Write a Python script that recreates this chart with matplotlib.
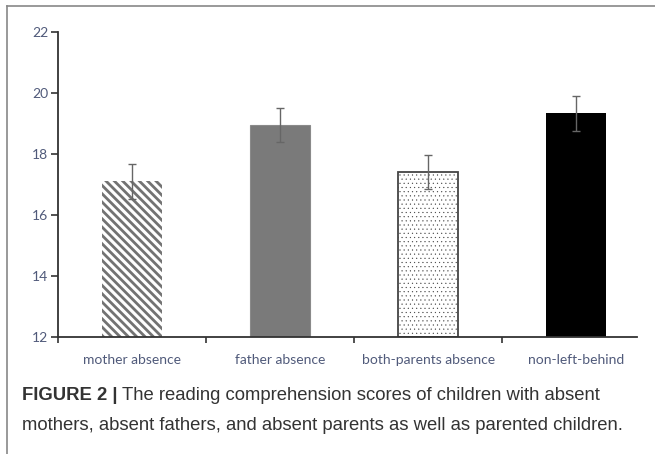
import numpy as np
import matplotlib.pyplot as plt
from matplotlib.lines import Line2D

# data
groups = ['mother absence', 'father absence', 'both-parents absence', 'non-left-behind']
scores = [17.1, 18.95, 17.42, 19.33]
errors = [0.57, 0.55, 0.56, 0.56]
yticks = [12, 14, 16, 18, 20, 22]

caption_bold = 'FIGURE 2 |'
caption_1 = 'The reading comprehension scores of children with absent'
caption_2 = 'mothers, absent fathers, and absent parents as well as parented children.'

fig = plt.figure(figsize=(6.55, 4.54), dpi=100)
ax = fig.add_axes([58/655, 1-337/454, (637-58)/655, (337-32)/454])

x = np.arange(len(groups))
w = 60/148
face = ['white', '#7a7a7a', 'white', 'black']
edge = ['#737373', '#8a8a8a', '#444444', 'black']
hatch = ['\\\\\\\\', None, '....', None]
lw = [0, 0.8, 1.3, 0]
hlw = [2.0, 1.0, 0.3, 1.0]
for i in range(len(groups)):
    plt.rcParams['hatch.linewidth'] = hlw[i]
    b = ax.bar(x[i], scores[i] - 12, bottom=12, width=w, color=face[i], edgecolor=edge[i],
               hatch=hatch[i], linewidth=lw[i], zorder=2)
    for p in b:
        if hasattr(p, 'set_hatch_linewidth'):
            p.set_hatch_linewidth(hlw[i])
ax.errorbar(x, scores, yerr=errors, fmt='none', ecolor='#666666', elinewidth=1,
            capsize=3, capthick=1, zorder=3)

ax.set_ylim(12, 22)
ax.set_xlim(-0.5, 3.41)
ax.set_yticks(yticks)
ax.set_xticks([-0.5, 0.5, 1.5, 2.5])
ax.set_xticklabels([])
ax.set_xticks(x, minor=True)
ax.set_xticklabels(groups, minor=True)

lab_col = '#505a7a'
ax.tick_params(axis='y', direction='out', length=5, width=1.2, color='#333333',
               labelsize=10, labelcolor=lab_col, pad=2)
ax.tick_params(axis='x', which='major', direction='out', length=4, width=1.2, color='#333333')
ax.tick_params(axis='x', which='minor', length=0, labelsize=10, labelcolor=lab_col, pad=12)
for t in ax.get_yticklabels() + ax.get_xticklabels(minor=True):
    t.set_family('Lato')

for s in ['top', 'right']:
    ax.spines[s].set_visible(False)
for s in ['left', 'bottom']:
    ax.spines[s].set_color('#333333')
    ax.spines[s].set_linewidth(1.3)

# frame of the figure panel (only top and left visible)
fig.add_artist(Line2D([7/655, 1], [1-6/454, 1-6/454], color='#888888', lw=1.2))
fig.add_artist(Line2D([7/655, 7/655], [0, 1-6/454], color='#888888', lw=1.2))

# caption
cap_col = '#333333'
tb = fig.text(22/655, 1-395/454, caption_bold, fontsize=13.3, fontweight='bold',
              family='Liberation Sans', va='center', color=cap_col)
fig.canvas.draw()
bb = tb.get_window_extent(fig.canvas.get_renderer())
fig.text(bb.x1/655 + 5/655, 1-395/454, caption_1, fontsize=13.3, family='Liberation Sans',
         va='center', color=cap_col)
fig.text(22/655, 1-426/454, caption_2, fontsize=13.3, family='Liberation Sans',
         va='center', color=cap_col)

fig.savefig('out.png', dpi=100)
